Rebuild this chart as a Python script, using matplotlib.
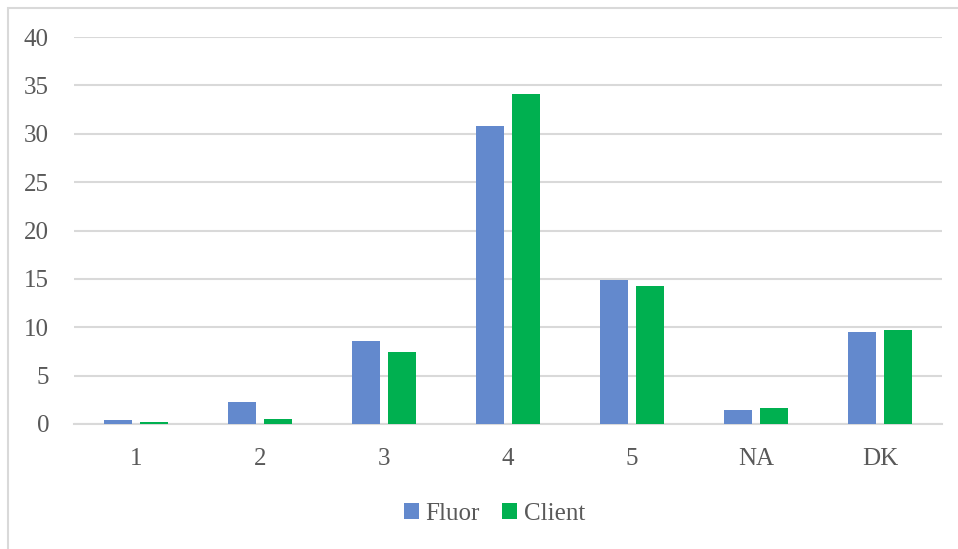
import matplotlib.pyplot as plt
import numpy as np
from matplotlib.patches import Rectangle

# Survey responses by rating, Fluor vs Client (%)
categories = ['1', '2', '3', '4', '5', 'NA', 'DK']
fluor = [0.4, 2.3, 8.6, 30.8, 14.9, 1.45, 9.5]
client = [0.2, 0.5, 7.4, 34.1, 14.3, 1.7, 9.7]
yticks = [0, 5, 10, 15, 20, 25, 30, 35, 40]

blue = '#6389cd'
green = '#00b050'
grid_col = '#d9d9d9'
text_col = '#595959'
fs = 18

plt.rcParams['font.family'] = ['Liberation Serif', 'DejaVu Serif']

fig = plt.figure(figsize=(9.58, 5.49), dpi=100)
ax = fig.add_axes([74 / 958, 1 - 424 / 549, (942 - 74) / 958, (424 - 37) / 549])

x = np.arange(len(categories))
w = 0.225
off = 0.143
ax.bar(x - off, fluor, w, color=blue, label='Fluor', zorder=3)
ax.bar(x + off, client, w, color=green, label='Client', zorder=3)

ax.set_xlim(-0.5, len(categories) - 0.5)
ax.set_ylim(0, 40)
ax.set_yticks(yticks)
ax.set_xticks(x)
ax.set_xticklabels(categories)
ax.yaxis.grid(True, color=grid_col, linewidth=1.5, zorder=0)
ax.set_axisbelow(True)
for s in ['top', 'right', 'left']:
    ax.spines[s].set_visible(False)
ax.spines['bottom'].set_color(grid_col)
ax.spines['bottom'].set_linewidth(1.5)
ax.tick_params(axis='both', length=0, labelsize=fs, colors=text_col)
ax.tick_params(axis='y', pad=18)
ax.tick_params(axis='x', pad=17)

leg = ax.legend(loc='center', bbox_to_anchor=(494.5 / 958, 1 - 514 / 549), bbox_transform=fig.transFigure,
                ncol=2, frameon=False, fontsize=fs, handlelength=0.6, handleheight=0.6,
                handletextpad=0.25, columnspacing=0.9, borderpad=0)
for t in leg.get_texts():
    t.set_color(text_col)

# chart area border (right and bottom edges fall outside the image)
fig.patches.append(Rectangle((7.5 / 958, -0.1), 1.1, 1 - 7.5 / 549 + 0.1, transform=fig.transFigure,
                             fill=False, edgecolor=grid_col, linewidth=1.5))

fig.savefig('out.png', dpi=100)
